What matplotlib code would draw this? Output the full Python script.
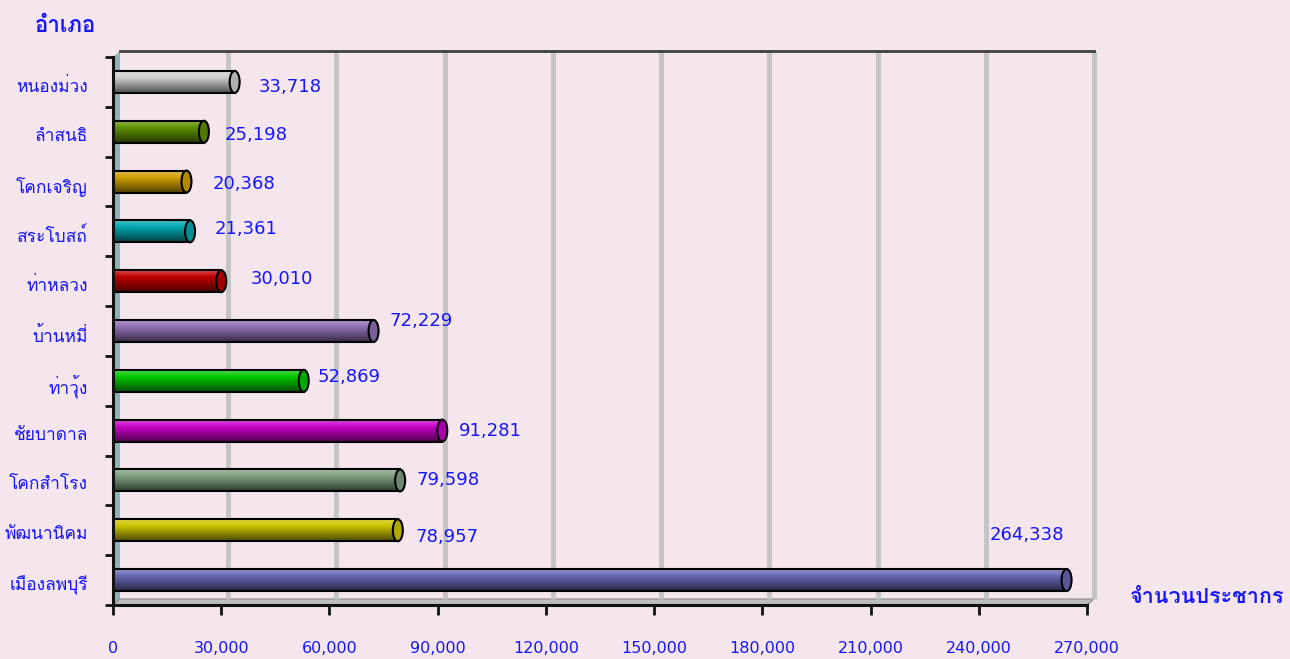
import matplotlib
matplotlib.use("Agg")
import matplotlib.pyplot as plt
from matplotlib import font_manager
from matplotlib.ft2font import FT2Font
from matplotlib.transforms import ScaledTranslation
import numpy as np
from matplotlib.patches import Ellipse, Polygon, Rectangle
from matplotlib.colors import to_rgb

# ---------------- data ----------------
districts = ["หนองม่วง", "ลำสนธิ", "โคกเจริญ", "สระโบสถ์", "ท่าหลวง", "บ้านหมี่",
             "ท่าวุ้ง", "ชัยบาดาล", "โคกสำโรง", "พัฒนานิคม", "เมืองลพบุรี"]
population = [33718, 25198, 20368, 21361, 30010, 72229, 52869, 91281, 79598, 78957, 264338]
x_ticks = [0, 30000, 60000, 90000, 120000, 150000, 180000, 210000, 240000, 270000]
y_title = "อำเภอ"
x_title = "จำนวนประชากร"

# ---------------- styles ----------------
bar_colors = ["#CFCFCF", "#5E9000", "#D0A000", "#00A8B0", "#C00000", "#9070B4",
              "#00C800", "#C800C8", "#80A080", "#CCC400", "#6868B4"]
# label offsets in pixels (dx from bar end, dy downward)
label_off = [(24, 5), (21, 3), (26, 2), (25, -2), (29, -2), (16, -10),
             (14, -4), (17, 0), (16, 0), (18, 7), (-77, -45)]

# ---------------- find a Thai-capable font ----------------
thai_fonts = []
seen = set()
for f in font_manager.fontManager.ttflist:
    if f.name in seen:
        continue
    try:
        cm = FT2Font(f.fname).get_charmap()
        if 0x0E01 in cm and 0x0E33 in cm:
            thai_fonts.append(f.name)
            seen.add(f.name)
    except Exception:
        pass

thai = "Loma" if "Loma" in thai_fonts else (thai_fonts[0] if thai_fonts else "DejaVu Sans")
plt.rcParams["font.family"] = [thai, "DejaVu Sans"]
NUMFONT = "DejaVu Sans"

BG = "#F5E6EE"
BLUE = "#1515FF"
fig = plt.figure(figsize=(12.9, 6.59), dpi=100, facecolor=BG)
ax = fig.add_axes([113 / 1290, (659 - 605) / 659, 974 / 1290, 548 / 659])
ax.set_facecolor("none")

n = len(districts)
ypos = [n - 1 - i for i in range(n)]
xmax = x_ticks[-1]

dx = 7 / 108.2 * 30000
dy = 6 / 49.8

# 3D frame: left wall, floor, gridlines, right edge, top
ax.add_patch(Polygon([(0, -0.5), (dx, -0.5 + dy), (dx, n - 0.5 + dy), (0, n - 0.5)],
                     closed=True, facecolor="#8FB3B3", edgecolor="none", clip_on=False, zorder=1))
ax.add_patch(Polygon([(0, -0.5), (xmax, -0.5), (xmax + dx, -0.5 + dy), (dx, -0.5 + dy)],
                     closed=True, facecolor="#BDBDBD", edgecolor="#8A8A8A", lw=0.8, clip_on=False, zorder=1))
for v in x_ticks[1:]:
    ax.plot([v + dx, v + dx], [-0.5 + dy, n - 0.5 + dy], color="#C4C4C4", lw=3.5,
            clip_on=False, zorder=1.5, solid_capstyle="butt")
ax.plot([dx, xmax + dx], [n - 0.5 + dy, n - 0.5 + dy], color="#404040", lw=2, clip_on=False, zorder=2)

bh = 0.44
cap_w = 10 / 108.2 * 30000
for i, (v, c) in enumerate(zip(population, bar_colors)):
    y = ypos[i]
    base = np.array(to_rgb(c))
    light = base + (1 - base) * 0.3
    dark = base * 0.38
    t = np.linspace(0, 1, 64)
    grad = np.empty((64, 3))
    for k, tt in enumerate(t):
        if tt < 0.3:
            w = tt / 0.3
            grad[k] = light * (1 - w) + base * w
        else:
            w = (tt - 0.3) / 0.7
            grad[k] = base * (1 - w) + dark * w
    grad = np.clip(grad, 0, 1)[:, None, :]
    ax.imshow(grad, extent=(0, v, y - bh / 2, y + bh / 2), aspect="auto",
              interpolation="bilinear", origin="upper", zorder=3)
    ax.add_patch(Rectangle((0, y - bh / 2), v, bh, facecolor="none",
                           edgecolor="black", lw=1.5, zorder=4))
    ax.add_patch(Ellipse((v, y), cap_w, bh, facecolor=tuple(np.clip(base * 0.85, 0, 1)),
                         edgecolor="black", lw=1.5, zorder=5))
    ox, oy = label_off[i]
    ax.annotate(f"{v:,}", xy=(v, y), xytext=(ox, -oy), textcoords="offset pixels",
                ha="left", va="center", color=BLUE, fontsize=13, family=NUMFONT, zorder=6)

ax.set_xlim(0, xmax)
ax.set_ylim(-0.5, n - 0.5)

for s in ["top", "right"]:
    ax.spines[s].set_visible(False)
for s in ["left", "bottom"]:
    ax.spines[s].set_linewidth(2.2)
    ax.spines[s].set_color("#111111")
    ax.spines[s].set_zorder(7)

ax.set_xticks(x_ticks)
ax.set_xticklabels([f"{v:,}" for v in x_ticks], family=NUMFONT)
ax.tick_params(axis="x", length=7, width=2, color="#111111", pad=19,
               labelcolor=BLUE, labelsize=11.5)
ax.set_yticks([k - 0.5 for k in range(n + 1)])
ax.set_yticklabels([])
ax.tick_params(axis="y", which="major", length=6, width=2, color="#111111")
ax.set_yticks(ypos, minor=True)
ax.set_yticklabels(districts, minor=True)
ax.tick_params(axis="y", which="minor", length=0, pad=18, labelcolor=BLUE, labelsize=12.5)
shift = ScaledTranslation(0, -3 / 100, fig.dpi_scale_trans)
for lab in ax.get_yticklabels(minor=True):
    lab.set_transform(lab.get_transform() + shift)

fig.text(35 / 1290, 1 - 26 / 659, y_title, color=BLUE, fontsize=16, fontweight="bold",
         ha="left", va="center")
fig.text(1130 / 1290, 1 - 597 / 659, x_title, color=BLUE, fontsize=15.5, fontweight="bold",
         ha="left", va="center")

fig.savefig("out.png", dpi=100, facecolor=BG)
